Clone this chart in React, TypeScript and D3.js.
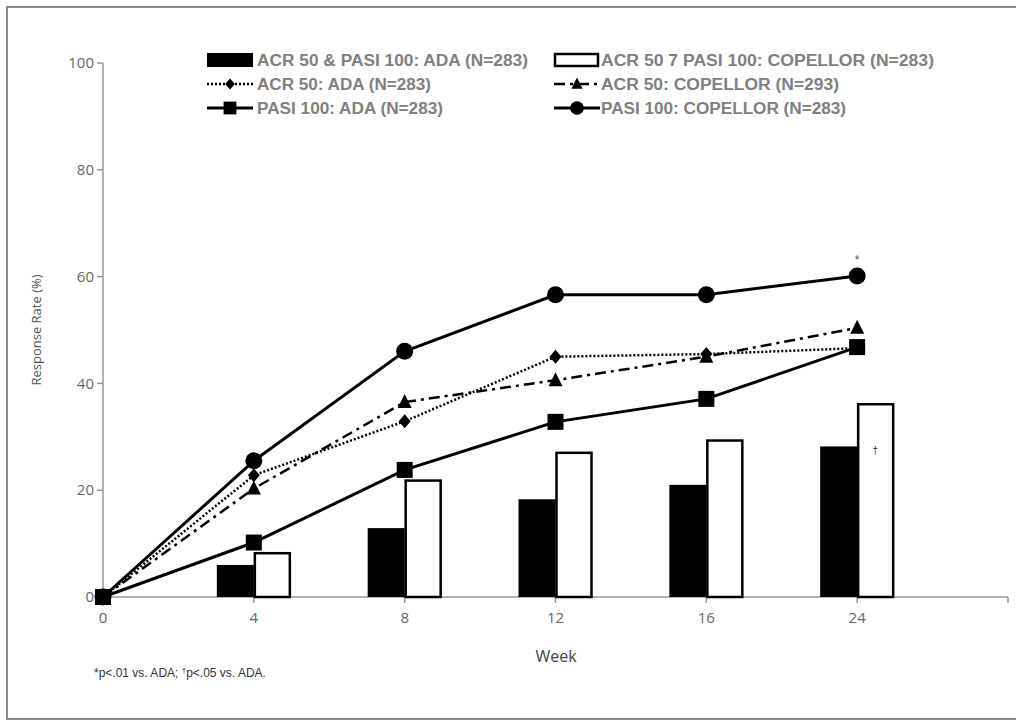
import React from "react";
import * as d3 from "d3";

const weeks = ["0", "4", "8", "12", "16", "24"];
const xDomain = ["0", "4", "8", "12", "16", "24", ""];
const yTicks = [0, 20, 40, 60, 80, 100];

const barAda = [null, 6.0, 12.9, 18.3, 21.0, 28.2];
const barCop = [null, 8.2, 21.8, 27.0, 29.3, 36.1];
const acr50Ada = [0, 22.8, 32.9, 45.0, 45.5, 46.6];
const acr50Cop = [0, 20.3, 36.5, 40.6, 45.0, 50.4];
const pasiAda = [0, 10.2, 23.8, 32.8, 37.1, 46.8];
const pasiCop = [0, 25.5, 46.0, 56.6, 56.6, 60.1];

const legendLabels = [
  "ACR 50 & PASI 100: ADA (N=283)",
  "ACR 50 7 PASI 100: COPELLOR  (N=283)",
  "ACR 50: ADA (N=283)",
  "ACR 50: COPELLOR (N=293)",
  "PASI 100: ADA (N=283)",
  "PASI 100: COPELLOR (N=283)",
];
const legendWidths = [271, 333, 174, 238, 186, 245];

const x = d3.scalePoint<string>().domain(xDomain).range([103, 1008]);
const y = d3.scaleLinear().domain([0, 100]).range([597, 63]);
const barW = 37;

type Marker = "square" | "circle" | "diamond" | "triangle";

function markerPath(m: Marker, cx: number, cy: number, k = 1): React.ReactNode {
  if (m === "square") return <rect x={cx - 8 * k} y={cy - 8 * k} width={16 * k} height={16 * k} fill="#000" />;
  if (m === "circle") return <circle cx={cx} cy={cy} r={8.5 * k} fill="#000" />;
  if (m === "diamond")
    return <path d={`M${cx},${cy - 7 * k}L${cx + 6 * k},${cy}L${cx},${cy + 7 * k}L${cx - 6 * k},${cy}Z`} fill="#000" />;
  return <path d={`M${cx},${cy - 8 * k}L${cx + 7 * k},${cy + 6 * k}L${cx - 7 * k},${cy + 6 * k}Z`} fill="#000" />;
}

const series: { data: number[]; marker: Marker; dash: string; width: number }[] = [
  { data: acr50Ada, marker: "diamond", dash: "2,2", width: 2.5 },
  { data: acr50Cop, marker: "triangle", dash: "11,5,3,5", width: 2.5 },
  { data: pasiAda, marker: "square", dash: "", width: 3 },
  { data: pasiCop, marker: "circle", dash: "", width: 3 },
];

export default function App() {
  const line = d3
    .line<number>()
    .x((_, i) => x(weeks[i]) as number)
    .y((d) => y(d));
  const tickColor = "#999";
  const labelFont = "'Liberation Sans', Arial, sans-serif";
  const tickFont = "'Open Sans', 'Liberation Sans', sans-serif";

  return (
    <svg
      width={1016}
      height={720}
      style={{ position: "absolute", left: 0, top: 0, background: "#fff" }}
    >
      <rect x={7} y={7} width={1020} height={712} fill="#fff" stroke="#8a8a8a" strokeWidth={2} />

      {/* y axis */}
      <line x1={103} x2={103} y1={y(100)} y2={y(0)} stroke={tickColor} strokeWidth={1.5} />
      {yTicks.map((t) => (
        <g key={t}>
          <line x1={97} x2={103} y1={y(t)} y2={y(t)} stroke={tickColor} strokeWidth={1.5} />
          <text
            x={94}
            y={y(t)}
            dy="0.35em"
            textAnchor="end"
            fontFamily={tickFont}
            fontSize={15}
            fill="#666"
          >
            {t}
          </text>
        </g>
      ))}
      <text
        transform={`translate(41,330) rotate(-90)`}
        textAnchor="middle"
        fontFamily={tickFont}
        fontSize={13}
        fill="#555"
      >
        Response Rate (%)
      </text>

      {/* x axis */}
      <line x1={103} x2={1008} y1={y(0)} y2={y(0)} stroke={tickColor} strokeWidth={1.5} />
      {xDomain.map((w, i) => (
        <g key={i}>
          <line
            x1={x(w) as number}
            x2={x(w) as number}
            y1={y(0)}
            y2={y(0) + 6}
            stroke={tickColor}
            strokeWidth={1.5}
          />
          {w !== "" && (
            <text
              x={x(w) as number}
              y={623}
              textAnchor="middle"
              fontFamily={tickFont}
              fontSize={15}
              fill="#666"
            >
              {w}
            </text>
          )}
        </g>
      ))}
      <text x={556} y={662} textAnchor="middle" fontFamily={tickFont} fontSize={16} fill="#444">
        Week
      </text>

      {/* bars */}
      {weeks.map((w, i) => {
        const cx = x(w) as number;
        const a = barAda[i];
        const c = barCop[i];
        return (
          <g key={w}>
            {a != null && (
              <rect x={cx - barW} y={y(a)} width={barW} height={y(0) - y(a)} fill="#000" />
            )}
            {c != null && (
              <rect
                x={cx + 1}
                y={y(c)}
                width={barW - 2}
                height={y(0) - y(c)}
                fill="#fff"
                stroke="#000"
                strokeWidth={2.5}
              />
            )}
          </g>
        );
      })}

      {/* lines */}
      {series.map((s, k) => (
        <g key={k}>
          <path
            d={line(s.data) || ""}
            fill="none"
            stroke="#000"
            strokeWidth={s.width}
            strokeDasharray={s.dash || undefined}
          />
          {s.data.map((v, i) => (
            <g key={i}>{markerPath(s.marker, x(weeks[i]) as number, y(v))}</g>
          ))}
        </g>
      ))}

      {/* annotations */}
      <text x={x("24") as number} y={y(pasiCop[5]) - 12} textAnchor="middle" fontFamily={labelFont} fontSize={12} fill="#555">
        *
      </text>
      <text x={(x("24") as number) + 18} y={y(barCop[5] as number) + 50} textAnchor="middle" fontFamily={labelFont} fontSize={10} fill="#333">
        †
      </text>

      {/* legend */}
      {[0, 1, 2].map((row) => {
        const cy = 60 + row * 24;
        return (
          <g key={row}>
            {[0, 1].map((col) => {
              const sx = col === 0 ? 207 : 554;
              const tx = col === 0 ? 257 : 601;
              const idx = row * 2 + col;
              let sym: React.ReactNode = null;
              if (row === 0) {
                sym =
                  col === 0 ? (
                    <rect x={sx} y={cy - 7} width={46} height={14} fill="#000" />
                  ) : (
                    <rect x={sx + 1} y={cy - 6} width={43} height={12} fill="#fff" stroke="#000" strokeWidth={2.5} />
                  );
              } else {
                const s = row === 1 ? series[col] : series[2 + col];
                sym = (
                  <g>
                    <line
                      x1={sx}
                      x2={sx + 46}
                      y1={cy}
                      y2={cy}
                      stroke="#000"
                      strokeWidth={s.width}
                      strokeDasharray={s.dash || undefined}
                    />
                    {markerPath(s.marker, sx + 23, cy, 0.8)}
                  </g>
                );
              }
              return (
                <g key={col}>
                  {sym}
                  <text
                    x={tx}
                    y={cy}
                    dy="0.36em"
                    fontFamily={labelFont}
                    fontSize={16}
                    fontWeight="bold"
                    fill="#808080"
                    textLength={legendWidths[idx]}
                    lengthAdjust="spacingAndGlyphs"
                  >
                    {legendLabels[idx]}
                  </text>
                </g>
              );
            })}
          </g>
        );
      })}

      {/* footnote */}
      <text x={94} y={677} fontFamily={labelFont} fontSize={12} fill="#333">
        *p&lt;.01 vs. ADA; <tspan fontSize={8} dy={-4}>†</tspan>
        <tspan dy={4}>p&lt;.05 vs. ADA.</tspan>
      </text>
    </svg>
  );
}
